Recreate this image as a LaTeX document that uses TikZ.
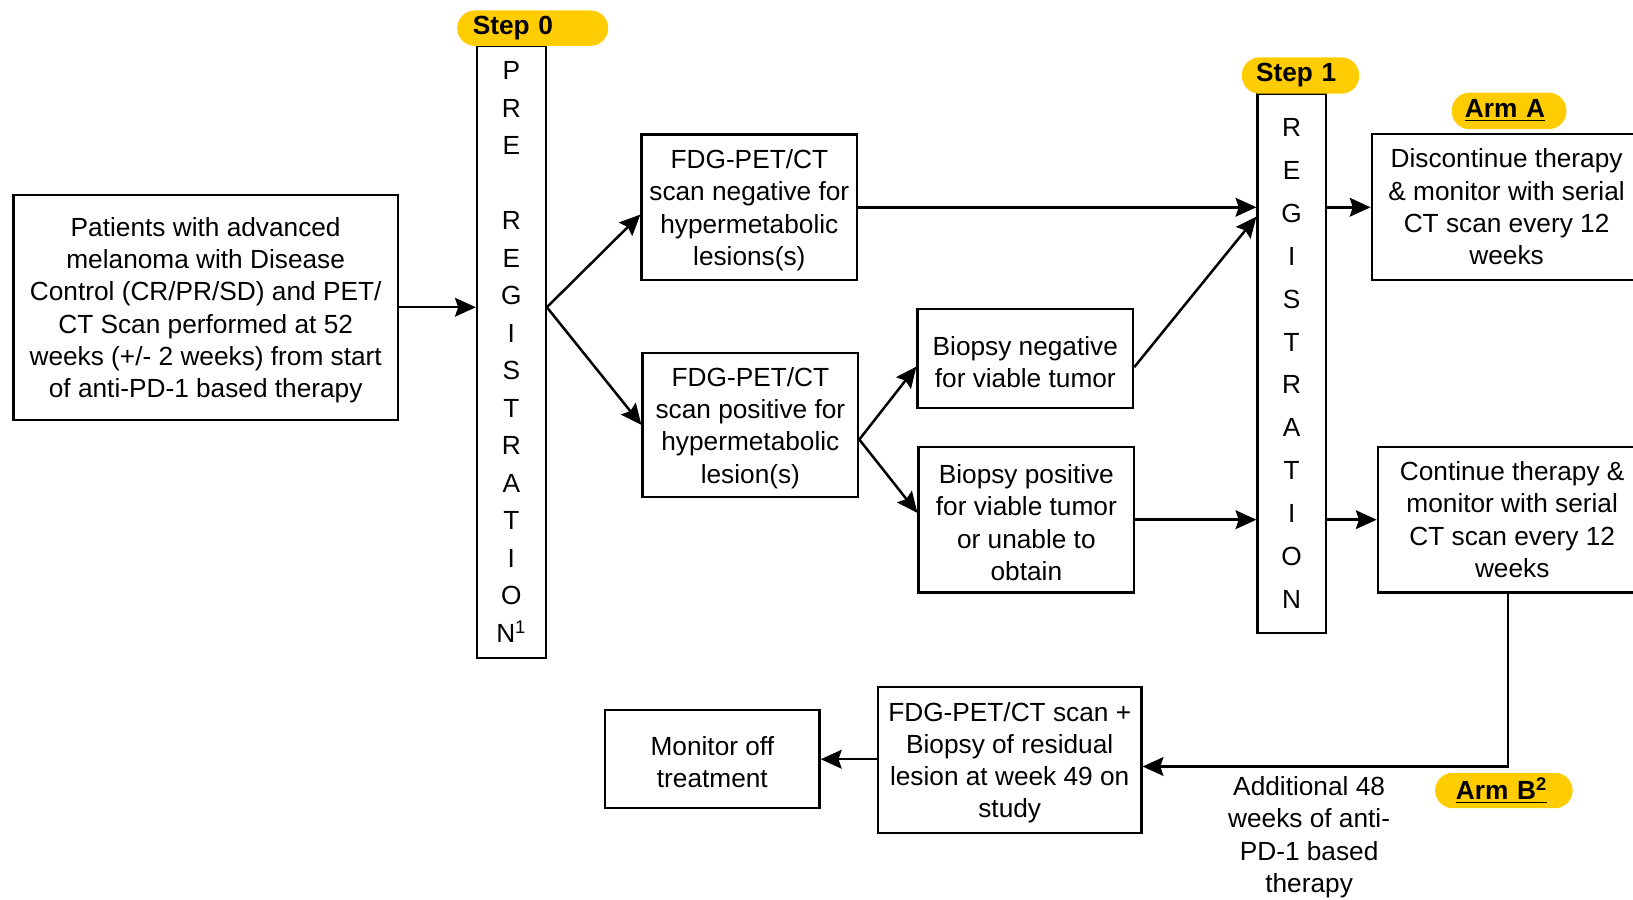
\documentclass[tikz,border=0pt]{standalone}
\usepackage{fontspec}
\setmainfont{Liberation Sans}
\usetikzlibrary{arrows.meta}
\definecolor{pillyellow}{RGB}{255,204,0}
\newcommand\txtf{\fontsize{12.6}{15.5}\selectfont}
\newcommand\tstrut{\rule{0pt}{12pt}}
\tikzset{
  box/.style={draw, line width=1.1pt, align=center, inner sep=0pt, font=\txtf},
  pillbox/.style={fill=pillyellow, rounded corners=8.5pt, align=left, inner ysep=0pt, font=\txtf\bfseries},
  arr/.style={line width=1.2pt, -{Stealth[length=10pt,width=9pt,inset=1.5pt]}},
  plain/.style={align=center, inner sep=0pt, font=\txtf},
}
\begin{document}
\begin{tikzpicture}[x=0.5pt, y=-0.5pt]
\useasboundingbox (0,0) rectangle (1568,864);
\clip (0,0) rectangle (1568,864);

% main boxes
\node[box, minimum width=184.5pt, minimum height=108pt] (pat) at (197.5,295)
  {\tstrut Patients with advanced\\melanoma with Disease\\Control (CR/PR/SD) and PET/\\CT Scan performed at 52\\weeks (+/- 2 weeks) from start\\of anti-PD-1 based therapy};

\node[box, minimum width=33pt, minimum height=294pt, font=\fontsize{12.6}{18}\selectfont] (prereg) at (491,338)
  {P\\R\\E\\[18pt]R\\E\\G\\I\\S\\T\\R\\A\\T\\I\\O\\N\textsuperscript{1}};
\node[pillbox, minimum height=17pt, inner xsep=7.5pt, text width=57.5pt] (step0) at (511.5,27) {Step 0};

\node[box, minimum width=103.5pt, minimum height=70pt] (fneg) at (719.5,199)
  {\tstrut FDG-PET/CT\\scan negative for\\hypermetabolic\\lesions(s)};
\node[box, minimum width=103.5pt, minimum height=69pt] (fpos) at (720.5,408)
  {\tstrut FDG-PET/CT\\scan positive for\\hypermetabolic\\lesion(s)};
\node[box, minimum width=103.5pt, minimum height=47.5pt] (bneg) at (984.5,344.5)
  {\tstrut Biopsy negative\\for viable tumor};
\node[box, minimum width=103.5pt, minimum height=70pt] (bpos) at (985.5,499)
  {\tstrut Biopsy positive\\for viable tumor\\or unable to\\obtain};

\node[box, minimum width=32.75pt, minimum height=259pt, font=\fontsize{12.6}{20.6}\selectfont] (reg) at (1240.25,349)
  {R\\E\\G\\I\\S\\T\\R\\A\\T\\I\\O\\N};
\node[pillbox, minimum height=17.5pt, inner xsep=6.75pt, text width=42.75pt] (step1) at (1248.75,72.5) {Step 1};

\node[box, minimum width=129.5pt, minimum height=70.25pt] (armA) at (1446.6,198.75)
  {Discontinue therapy\\\& monitor with serial\\CT scan every 12\\weeks};
\node[pillbox, minimum height=17.5pt, inner xsep=6.3pt, text width=42.4pt] (armApill) at (1449,106.5) {\underline{Arm A}};

\node[box, minimum width=129pt, minimum height=70pt] (cont) at (1452,499)
  {Continue therapy \&\\monitor with serial\\CT scan every 12\\weeks};

\node[box, minimum width=126.5pt, minimum height=70pt] (fbx) at (969.5,729.5)
  {\tstrut FDG-PET/CT scan +\\Biopsy of residual\\lesion at week 49 on\\study};
\node[box, minimum width=103pt, minimum height=47pt] (mon) at (684,729)
  {\tstrut Monitor off\\treatment};

\node[pillbox, minimum height=17pt, inner xsep=10pt, text width=46pt] (armBpill) at (1444,759) {\underline{Arm B\textsuperscript{2}}};
\node[plain] (add) at (1257,801) {\tstrut Additional 48\\weeks of anti-\\PD-1 based\\therapy};

% connectors
\draw[arr] (pat.east) -- (prereg.west |- pat.east);
\coordinate (a0) at (prereg.east |- pat.east);
\draw[arr] (a0) -- ([yshift=-3.5pt]fneg.west);
\draw[arr] (a0) -- (fpos.west);

\coordinate (rt) at (reg.west |- fneg.east);
\draw[arr] (fneg.east) -- (rt);
\draw[arr] ([yshift=-4pt]bneg.east) -- ([yshift=-4.5pt]rt);

\coordinate (a1) at ([yshift=-7pt]fpos.east);
\draw[arr] (a1) -- ([yshift=-3.75pt]bneg.west);
\draw[arr] (a1) -- ([yshift=3.25pt]bpos.west);

\draw[arr] (bpos.east) -- (reg.west |- bpos.east);
\draw[arr] (reg.east |- fneg.east) -- (armA.west |- fneg.east);
\draw[arr] (reg.east |- bpos.east) -- (cont.west |- bpos.east);

\draw[arr] ([xshift=-2pt]cont.south) |- ([yshift=-3.25pt]fbx.east);
\draw[arr] (fbx.west |- mon.east) -- (mon.east);
\end{tikzpicture}
\end{document}
